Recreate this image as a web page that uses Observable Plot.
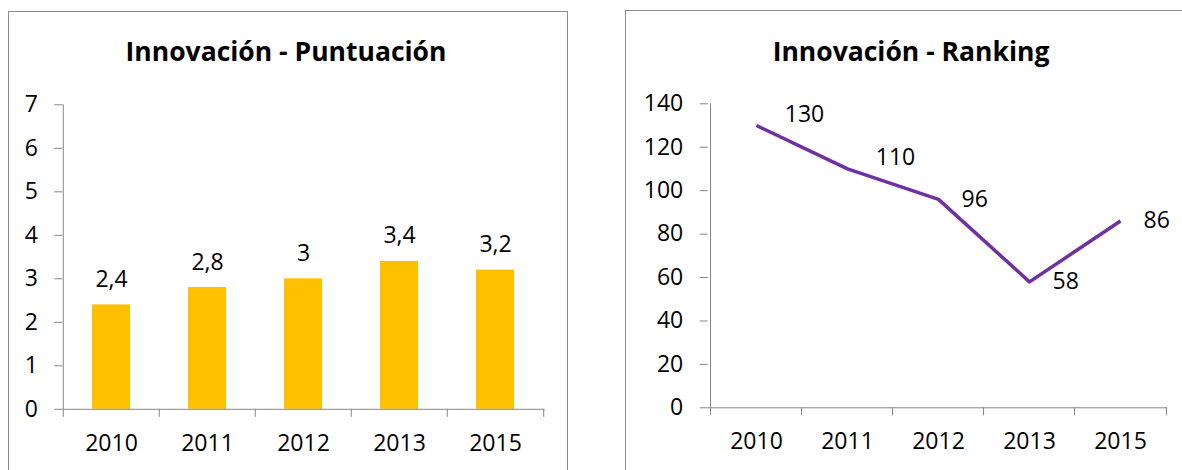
<!DOCTYPE html>
<html>
<head>
<meta charset="utf-8">
<script src="https://cdn.jsdelivr.net/npm/d3@7"></script>
<script src="https://cdn.jsdelivr.net/npm/@observablehq/plot@0.6"></script>
<style>
  html, body { margin: 0; padding: 0; background: #fff; }
  body { width: 1182px; height: 470px; overflow: hidden; position: relative; font-family: "Open Sans", sans-serif; }
  .box { position: absolute; border: 1px solid #8c8c8c; box-sizing: border-box; }
  .title { position: absolute; width: 400px; text-align: center; font-weight: 700; font-size: 26.5px; line-height: 27px; color: #000; white-space: nowrap; }
  .chart { position: absolute; top: 70px; }
  .chart svg { overflow: visible; }
</style>
</head>
<body>
<div class="box" style="left:8px; top:11px; width:560px; height:480px;"></div>
<div class="box" style="left:625px; top:10px; width:572px; height:480px;"></div>
<div class="title" id="titleL" style="left:86px; top:38px;"></div>
<div class="title" id="titleR" style="left:711px; top:38px;"></div>
<div class="chart" id="chartL" style="left:9px;"></div>
<div class="chart" id="chartR" style="left:626px;"></div>
<script>
// ---- data ----
const titleScore = "Innovación - Puntuación";
const titleRank = "Innovación - Ranking";
const years = ["2010", "2011", "2012", "2013", "2015"];
const scores = [2.4, 2.8, 3, 3.4, 3.2];
const ranks = [130, 110, 96, 58, 86];
const scoreTicks = [0, 1, 2, 3, 4, 5, 6, 7];
const rankTicks = [0, 20, 40, 60, 80, 100, 120, 140];

document.getElementById("titleL").textContent = titleScore;
document.getElementById("titleR").textContent = titleRank;

const scoreData = years.map((year, i) => ({year, value: scores[i], i}));
const rankData = years.map((year, i) => ({year, value: ranks[i], i}));

const axisColor = "#868686";
const fontSize = 23;
const commaFmt = v => String(v).replace(".", ",");
const intFmt = v => String(v);

// ---- left: bar chart ----
{
  const W = 556, H = 400, mL = 53.3, mR = 20.5, mT = 34.3, mB = 61.2;
  const step = (W - mL - mR) / years.length;
  const chart = Plot.plot({
    width: W, height: H,
    marginLeft: mL, marginRight: mR, marginTop: mT, marginBottom: mB,
    style: {fontFamily: "'Open Sans', sans-serif", fontSize: fontSize + "px", color: "#000", background: "transparent"},
    x: {domain: years, paddingInner: 0.6, paddingOuter: 0.3, axis: null},
    y: {domain: [scoreTicks[0], scoreTicks[scoreTicks.length - 1]], axis: null},
    marks: [
      Plot.barY(scoreData, {x: "year", y: "value", fill: "#FFC000"}),
      Plot.ruleY([0], {stroke: axisColor}),
      Plot.ruleX([years[0]], {x: d => d, y1: 0, y2: scoreTicks[scoreTicks.length - 1], dx: -step / 2, stroke: axisColor}),
      Plot.axisY({ticks: scoreTicks, tickFormat: intFmt, label: null, tickSize: 8, tickPadding: 17, stroke: axisColor, fill: "#000", fontSize}),
      Plot.axisX({ticks: years, label: null, tickSize: 8, dx: -step / 2, tickFormat: () => "", stroke: axisColor}),
      Plot.axisX({ticks: [years[years.length - 1]], label: null, tickSize: 8, dx: step / 2, tickFormat: () => "", stroke: axisColor}),
      Plot.axisX({ticks: years, label: null, tickSize: 0, tickPadding: 25, fill: "#000", fontSize}),
      Plot.text(scoreData, {x: "year", y: "value", text: d => commaFmt(d.value), lineAnchor: "bottom", dy: -18, fill: "#000", fontSize})
    ]
  });
  document.getElementById("chartL").appendChild(chart);
}

// ---- right: line chart ----
{
  const W = 556, H = 400, mL = 81.7, mR = 14.7, mT = 33.3, mB = 62.7;
  const step = (W - mL - mR) / years.length;
  const chart = Plot.plot({
    width: W, height: H,
    marginLeft: mL, marginRight: mR, marginTop: mT, marginBottom: mB,
    style: {fontFamily: "'Open Sans', sans-serif", fontSize: fontSize + "px", color: "#000", background: "transparent"},
    x: {type: "point", domain: years, padding: 0.5, axis: null},
    y: {domain: [rankTicks[0], rankTicks[rankTicks.length - 1]], axis: null},
    marks: [
      Plot.ruleY([0], {stroke: axisColor}),
      Plot.ruleX([years[0]], {x: d => d, y1: 0, y2: rankTicks[rankTicks.length - 1], dx: -step / 2, stroke: axisColor}),
      Plot.axisY({ticks: rankTicks, tickFormat: intFmt, label: null, tickSize: 8, tickPadding: 17, stroke: axisColor, fill: "#000", fontSize}),
      Plot.axisX({ticks: years, label: null, tickSize: 8, dx: -step / 2, tickFormat: () => "", stroke: axisColor}),
      Plot.axisX({ticks: [years[years.length - 1]], label: null, tickSize: 8, dx: step / 2, tickFormat: () => "", stroke: axisColor}),
      Plot.axisX({ticks: years, label: null, tickSize: 0, tickPadding: 25, fill: "#000", fontSize}),
      Plot.line(rankData, {x: "year", y: "value", stroke: "#7030A0", strokeWidth: 3.5, strokeLinejoin: "round", strokeLinecap: "butt"}),
      Plot.text(rankData, {filter: d => d.i < 2, x: "year", y: "value", text: d => String(d.value), textAnchor: "middle", lineAnchor: "middle", dx: 48, dy: -11, fill: "#000", fontSize}),
      Plot.text(rankData, {filter: d => d.i >= 2, x: "year", y: "value", text: d => String(d.value), textAnchor: "start", lineAnchor: "middle", dx: 23, dy: 0, fill: "#000", fontSize})
    ]
  });
  document.getElementById("chartR").appendChild(chart);
}
</script>
</body>
</html>
